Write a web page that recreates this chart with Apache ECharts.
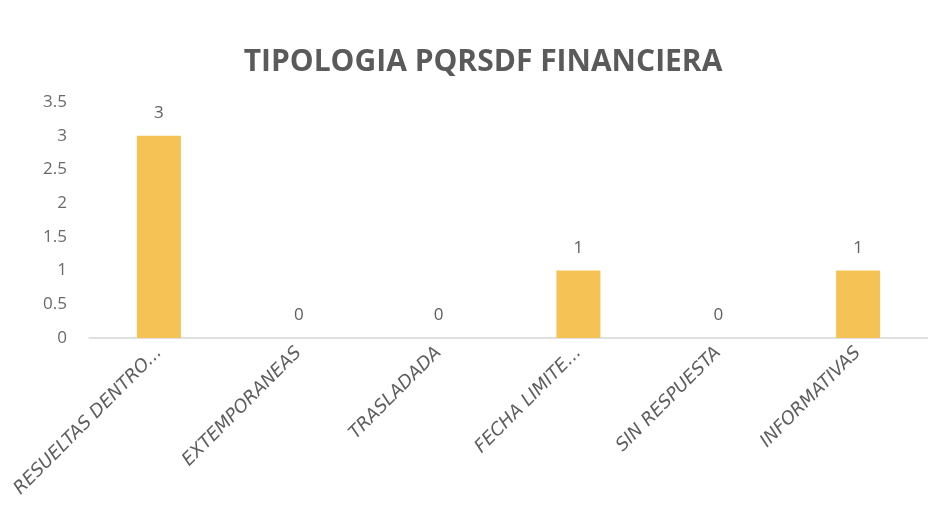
<!DOCTYPE html>
<html>
<head>
<meta charset="utf-8">
<title>Tipologia PQRSDF Financiera</title>
<script src="https://cdn.jsdelivr.net/npm/echarts@6/dist/echarts.min.js"></script>
<style>
  html, body { margin: 0; padding: 0; background: #fff; }
  #chart { width: 928px; height: 531px; }
</style>
</head>
<body>
<div id="chart"></div>
<script>
// Data
const categories = ['RESUELTAS DENTRO...', 'EXTEMPORANEAS', 'TRASLADADA', 'FECHA LIMITE...', 'SIN RESPUESTA', 'INFORMATIVAS'];
const values = [3, 0, 0, 1, 0, 1];

const myChart = echarts.init(document.getElementById('chart'));

const option = {
    animation: false,
    textStyle: { fontFamily: 'Open Sans' },
    title: {
        text: 'TIPOLOGIA PQRSDF FINANCIERA',
        left: 478,
        top: 42,
        textAlign: 'center',
        textStyle: {
            color: '#5a5a5a',
            fontSize: 30,
            fontWeight: 'bold',
            fontFamily: 'Open Sans'
        }
    },
    grid: {
        left: 89,
        top: 102,
        width: 846,
        height: 236
    },
    xAxis: {
        type: 'category',
        data: categories,
        axisLine: { lineStyle: { color: '#d6d6d6', width: 1.5 } },
        axisTick: { show: false },
        axisLabel: {
            rotate: 45,
            interval: 0,
            margin: 12,
            color: '#5e5e5e',
            fontSize: 18,
            fontFamily: 'DejaVu Sans',
            fontStyle: 'italic'
        }
    },
    yAxis: {
        type: 'value',
        min: 0,
        max: 3.5,
        interval: 0.5,
        axisLine: { show: false },
        axisTick: { show: false },
        splitLine: { show: false },
        axisLabel: {
            color: '#6a6a6a',
            fontSize: 17,
            margin: 22
        }
    },
    series: [{
        type: 'bar',
        data: values,
        barWidth: 44,
        itemStyle: { color: '#f5c255' },
        label: {
            show: true,
            position: 'top',
            distance: 14,
            color: '#5e5e5e',
            fontSize: 17
        }
    }]
};

myChart.setOption(option);
</script>
</body>
</html>
